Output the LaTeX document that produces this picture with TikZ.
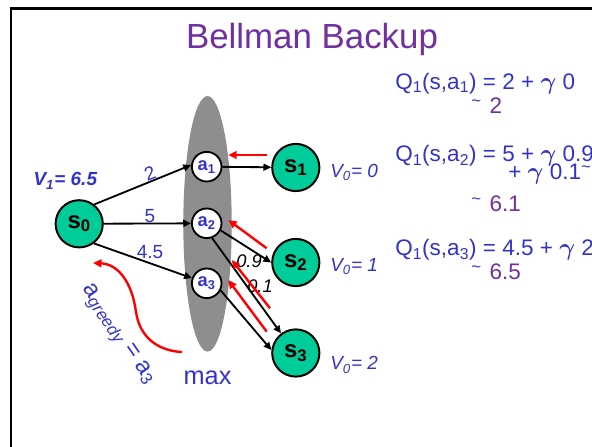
\documentclass[tikz,border=0pt]{standalone}
\usepackage{fontspec}
\setmainfont{Liberation Sans}
\usetikzlibrary{arrows.meta,calc,positioning}
\definecolor{bbInk}{HTML}{000000}
\definecolor{bbBlue}{HTML}{3333CC}
\definecolor{bbPurple}{HTML}{7030A0}
\definecolor{bbGreen}{HTML}{00CC99}
\definecolor{bbGray}{HTML}{8E8E8E}
\definecolor{bbRed}{HTML}{FF0000}
\newcommand\bbsize[1]{\fontsize{#1}{#1}\selectfont}
\newcommand\bbtilde{\raisebox{.32em}{\bbsize{12pt}\textasciitilde}}
\newcommand\bbgamma{{\boldmath$\gamma$}}
\tikzset{
  bb frame/.style={draw=bbInk, line width=2.1pt},
  bb title/.style={anchor=base, text=bbPurple, font=\bbsize{24.8pt}},
  bb state/.style={
    circle, draw=bbInk, fill=bbGreen, line width=1.4pt,
    minimum size=1.18cm, inner sep=0pt, font=\bfseries\bbsize{17pt}
  },
  bb action/.style={
    circle, draw=bbInk, fill=white, line width=1.3pt,
    minimum size=.74cm, inner sep=0pt, text=bbBlue, font=\bfseries\bbsize{13pt}
  },
  bb edge/.style={
    draw=bbInk,
    line width=1.3pt,
    -{Triangle[length=5.5pt,width=5pt]}
  },
  bb backup/.style={
    draw=bbRed,
    line width=1.7pt,
    -{Triangle[length=6pt,width=5.5pt]}
  },
  bb value/.style={anchor=base west, inner sep=0pt, text=bbBlue, font=\itshape\bbsize{13.5pt}},
  bb weight/.style={inner sep=0pt, text=bbBlue, font=\bbsize{13.5pt}},
  bb prob/.style={inner sep=0pt, text=bbInk, font=\itshape\bbsize{13pt}},
  bb label/.style={anchor=base, inner sep=0pt, text=bbBlue, font=\bbsize{18pt}},
  bb q/.style={anchor=base west, inner sep=0pt, text=bbBlue, font=\bbsize{16pt}}
}

\begin{document}
\begin{tikzpicture}[x=.025cm,y=.025cm]
  \useasboundingbox (0,0) rectangle (592,447);
  \clip (0,0) rectangle (592,447);
  \draw[bb frame] (11,-10) -- (11,438.5) -- (610,438.5);
  \node[bb title] (title) at (312,398.7) {Bellman Backup};

  % max over the actions
  \fill[bbGray] (207.5,223.2) ellipse [x radius=24.2, y radius=127.8];

  \node[bb state] (s0) at (79.2,223.2) {s\textsubscript{0}};
  \node[bb action] (a1) at (206.7,280.3) {a\textsubscript{1}};
  \node[bb action] (a2) at (206.7,223.7) {a\textsubscript{2}};
  \node[bb action] (a3) at (206.7,163.7) {a\textsubscript{3}};
  \node[bb state] (s1) at (295.8,279.5) {s\textsubscript{1}};
  \node[bb state] (s2) at (295.8,184.5) {s\textsubscript{2}};
  \node[bb state] (s3) at (295.8,94) {s\textsubscript{3}};

  \node[bb weight, rotate=21] (w1) at (150,273.7) {2};
  \node[bb weight] (w2) at (150,231) {5};
  \node[bb weight] (w3) at (150,195.3) {4.5};
  \node[bb prob] (p1) at (249,185.3) {0.9};
  \node[bb prob] (p2) at (260,160.7) {0.1};

  \draw[bb edge] (s0.52) -- (a1.174);
  \draw[bb edge] (s0) -- (a2);
  \draw[bb edge] (s0.-53) -- (a3);
  \draw[bb edge] (a1) -- (s1);
  \draw[bb edge] (a2.-27) -- (s2.west);
  \draw[bb edge] (a2.-70) -- (s3.127);
  \draw[bb edge] (a3.-27) -- (s3.173);

  % backups
  \draw[bb backup] ([shift={(-28.8,12.5)}]s1.center) -- ([shift={(21.6,11.7)}]a1.center);
  \draw[bb backup] ([shift={(-29.1,14.2)}]s2.center) -- ([shift={(21.6,3.3)}]a2.center);
  \draw[bb backup] ([shift={(-25.8,44.7)}]s3.center) -- ([shift={(25,-36.7)}]a2.center);
  \draw[bb backup] ([shift={(-29.1,21.3)}]s3.center) -- ([shift={(21.6,3.3)}]a3.center);

  \coordinate (gs) at (182,95);
  \coordinate (ge) at (93,184);
  \draw[bb backup] (gs) .. controls (160,96) and (140,108) .. (136,135)
    .. controls (132,165) and (118,183) .. (ge);

  \node[bb value, font=\bfseries\itshape\bbsize{13.5pt}] (v1) at (33.3,261) {V\textsubscript{1}= 6.5};
  \node[bb value] (v01) at (330,269.7) {V\textsubscript{0}= 0};
  \node[bb value] (v02) at (330,175.3) {V\textsubscript{0}= 1};
  \node[bb value] (v03) at (330,77) {V\textsubscript{0}= 2};
  \node[bb label] (maxlabel) at (207.5,62) {max};
  \node[bb label, anchor=center, font=\bbsize{17pt}, rotate=-55.7] (greedy) at (117.5,112)
    {a\textsubscript{\itshape greedy} = a\textsubscript{3}};

  \node[bb q] (q1) at (395,357.7) {Q\textsubscript{1}(s,a\textsubscript{1}) = 2 + \bbgamma\ 0};
  \node[bb q] (q1r) at (471,333.7) {\bbtilde\hspace{6pt}\textcolor{bbPurple}{2}};
  \node[bb q] (q2) at (395,285.3) {Q\textsubscript{1}(s,a\textsubscript{2}) = 5 + \bbgamma\ 0.9\bbtilde};
  \node[bb q] (q2b) at (508,267) {+ \bbgamma\ 0.1\bbtilde};
  \node[bb q] (q2r) at (471,235.3) {\bbtilde\hspace{6pt}\textcolor{bbPurple}{6.1}};
  \node[bb q] (q3) at (395,191.3) {Q\textsubscript{1}(s,a\textsubscript{3}) = 4.5 + \bbgamma\ 2};
  \node[bb q] (q3r) at (471,167) {\bbtilde\hspace{6pt}\textcolor{bbPurple}{6.5}};
\end{tikzpicture}
\end{document}
